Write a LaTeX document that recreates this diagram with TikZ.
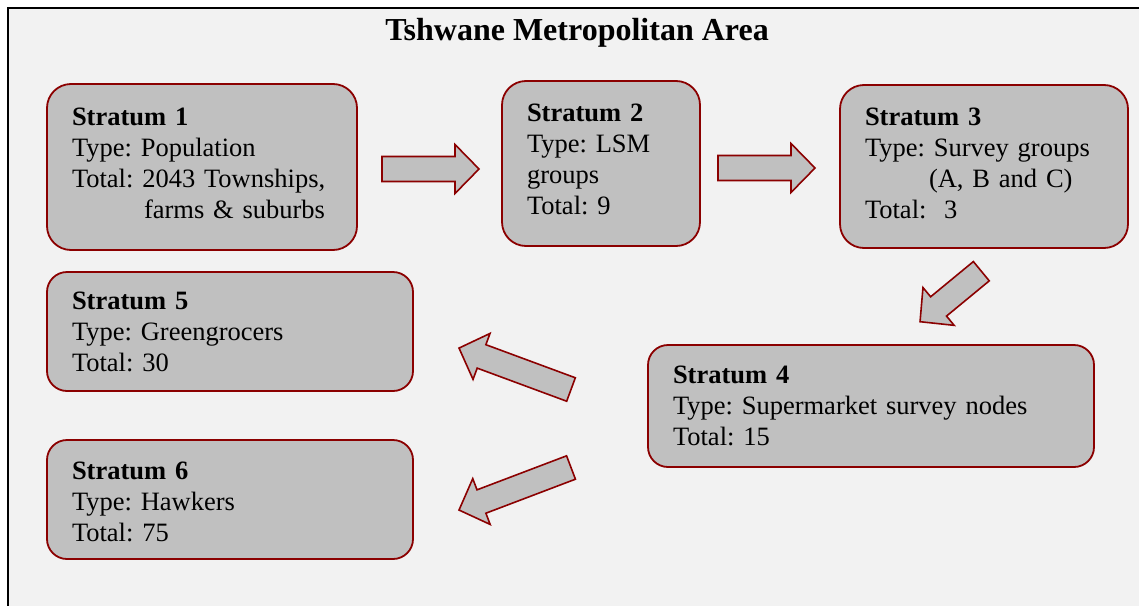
\documentclass[tikz,border=0pt]{standalone}
\usepackage{fontspec}
\setmainfont{Liberation Serif}
\definecolor{boxfill}{RGB}{192,192,192}
\definecolor{boxline}{RGB}{139,0,0}
\definecolor{bg}{RGB}{242,242,242}
\begin{document}
\begin{tikzpicture}[x=1pt,y=-1pt,
  stratbox/.style={draw=boxline, fill=boxfill, line width=1.8pt, rounded corners=24pt,
    align=left, inner xsep=25pt, inner ysep=0pt, anchor=center,
    font=\fontsize{26.5}{31}\selectfont\frenchspacing},
  arrowstyle/.style={draw=boxline, fill=boxfill, line width=1.6pt, line join=miter},
  pics/barrow/.style={code={
    \draw[arrowstyle] (0,-12.5) -- ({#1-24},-12.5) -- ({#1-24},-24.5) -- (#1,0)
      -- ({#1-24},24.5) -- ({#1-24},12.5) -- (0,12.5) -- cycle;}}
]
\useasboundingbox (0,0) rectangle (1139,605);
\begin{scope}
\clip (0,0) rectangle (1139,605);
\draw[fill=bg, line width=2pt] (8,8) rectangle (1180,640);
\end{scope}

\node[anchor=base, font=\fontsize{32}{36}\selectfont\bfseries] (title) at (577,40) {Tshwane Metropolitan Area};

\node[stratbox, text width=260pt, minimum width=310pt, minimum height=166pt] (s1) at (202,167)
  {\textbf{Stratum 1}\\Type: Population\\Total: 2043 Townships,\\\hspace*{72pt}farms \& suburbs\rule[-8pt]{0pt}{0pt}};
\node[stratbox, text width=148pt, minimum width=198pt, minimum height=165pt] (s2) at (601,163.5)
  {\textbf{Stratum 2}\\Type: LSM\\groups\\Total: 9\rule[-8pt]{0pt}{0pt}};
\node[stratbox, text width=238pt, minimum width=288pt, minimum height=163pt] (s3) at (984,166.5)
  {\textbf{Stratum 3}\\Type: Survey groups\\\hspace*{64pt}(A, B and C)\\Total:\ \ 3\rule[-6pt]{0pt}{0pt}};
\node[stratbox, text width=396pt, minimum width=446pt, minimum height=122pt, rounded corners=20pt] (s4) at (871,406)
  {\textbf{Stratum 4}\\Type: Supermarket survey nodes\\Total: 15};
\node[stratbox, text width=316pt, minimum width=366pt, minimum height=119pt, rounded corners=20pt] (s5) at (230,331.5)
  {\textbf{Stratum 5}\\Type: Greengrocers\\Total: 30};
\node[stratbox, text width=316pt, minimum width=366pt, minimum height=119pt, rounded corners=20pt] (s6) at (230,499.5)
  {\rule{0pt}{23pt}\textbf{Stratum 6}\\Type: Hawkers\\Total: 75};

\pic (a12) at (382,169) {barrow=97};
\pic (a23) at (718,168) {barrow=97};
\pic[rotate=219.5] (a34) at (981.3,271.2) {barrow=79.4};
\pic[rotate=159.7] (a45) at (571,389.5) {barrow=119.4};
\pic[rotate=200.8] (a46) at (571,467.5) {barrow=119.8};
\end{tikzpicture}
\end{document}
